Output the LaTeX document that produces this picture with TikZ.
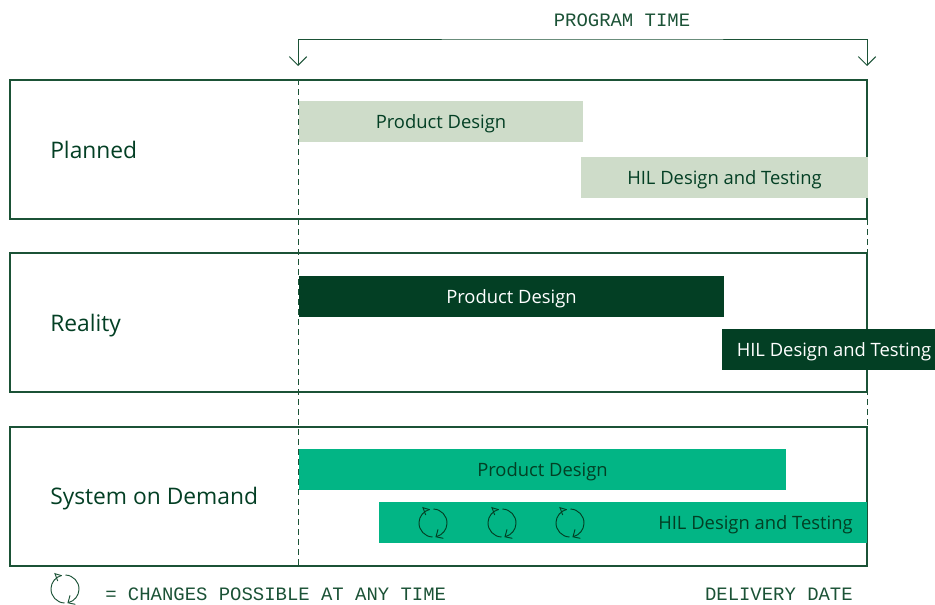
\documentclass[tikz,border=0pt]{standalone}
\usepackage{fontspec}
\setmainfont{Open Sans}
\setmonofont{Liberation Mono}
\usetikzlibrary{arrows.meta,positioning}
\definecolor{inkgreen}{HTML}{1B5236}
\definecolor{darkgreen}{HTML}{033F24}
\definecolor{palegreen}{HTML}{CEDCC9}
\definecolor{brightgreen}{HTML}{02B585}
\tikzset{
  rowbox/.style={draw=inkgreen, line width=0.8pt, minimum width=857*0.75pt, minimum height=139*0.75pt, inner sep=0pt},
  rowlabel/.style={text=darkgreen, anchor=base west, inner sep=0pt, font=\fontsize{17.1pt}{19pt}\selectfont},
  bar/.style={minimum height=41*0.75pt, inner sep=0pt, text height=9.75pt, text depth=0pt, font=\fontsize{13.8pt}{15pt}\selectfont},
  planbar/.style={bar, fill=palegreen, text=darkgreen},
  realbar/.style={bar, fill=darkgreen, text=white},
  demandbar/.style={bar, fill=brightgreen, text=darkgreen},
  monotext/.style={text=inkgreen, inner sep=0pt, font=\fontsize{14.2pt}{16pt}\ttfamily},
  guide/.style={inkgreen, line width=0.75pt, dash pattern=on 4.5pt off 3pt},
  timearrow/.style={inkgreen, line width=0.75pt, {Straight Barb[length=6.5pt,width=13pt]}-{Straight Barb[length=6.5pt,width=13pt]}},
  pics/cycle/.style={code={
    \begin{scope}[y=0.75pt, line width=0.7pt]
    \draw (88:14) arc (88:-75:14);
    \draw (268:14) arc (268:105:14);
    % barbs
    \draw (-3.3,13.3) -- (-10,15.3) -- (-7.3,8);
    \draw (10.3,-15.3) -- (3,-13.8) -- (5,-6.4);
    \end{scope}
  }}
}
\begin{document}
\begin{tikzpicture}[x=0.75pt, y=-0.75pt]
  \useasboundingbox (0,0) rectangle (935,604);

  % Rows
  \node[rowbox] (planned) at (438.5,149.5) {};
  \node[rowbox] (reality) at (438.5,322.5) {};
  \node[rowbox] (demand) at (438.5,496.5) {};
  \node[rowlabel] (plannedlabel) at (50,158) {Planned};
  \node[rowlabel] (realitylabel) at (50,331) {Reality};
  \node[rowlabel] (demandlabel) at (50,504) {System on Demand};

  % Guides and program time arrow
  \coordinate (startbot) at (298,566);
  \coordinate (endbot) at (867,566);
  \coordinate (starttop) at (298,66);
  \coordinate (endtop) at (867,66);
  \coordinate (timemid) at (582,39);
  \draw[guide] (starttop |- planned.north) -- (startbot);
  \draw[guide] (endtop |- planned.north) -- (endbot);
  \draw[timearrow] (starttop) |- (timemid) -| (endtop);
  \node[monotext] (timelabel) at (622,20) {PROGRAM TIME};

  % Planned bars
  \node[planbar, minimum width=284*0.75pt] (plandesign) at (441,121.5) {Product Design};
  \node[planbar, minimum width=287*0.75pt] (plantest) at (724.5,177.5) {HIL Design and Testing};

  % Reality bars
  \node[realbar, minimum width=425*0.75pt] (realdesign) at (511.5,296.5) {Product Design};
  \node[realbar, minimum width=213*0.75pt] (realtest) at (828.5,349.5) {};
  \node[bar, text=white] (realtestlabel) at (834,349.5) {HIL Design and Testing};

  % System on demand bars
  \node[demandbar, minimum width=487*0.75pt] (demanddesign) at (542.5,469.5) {Product Design};
  \node[demandbar, minimum width=488*0.75pt] (demandtest) at (623,522.5) {};
  \node[bar, text=darkgreen, anchor=east] (demandtestlabel) at (853,522.5) {HIL Design and Testing};

  % Change cycles
  \foreach \x in {433,502,570} {
    \pic[darkgreen] at (\x,523) {cycle};
  }
  \pic[inkgreen] at (65,589) {cycle};

  % Footer
  \node[monotext, anchor=west] (changes) at (105,594) {= CHANGES POSSIBLE AT ANY TIME};
  \node[monotext, anchor=east] (delivery) at (853,594) {DELIVERY DATE};
\end{tikzpicture}
\end{document}
